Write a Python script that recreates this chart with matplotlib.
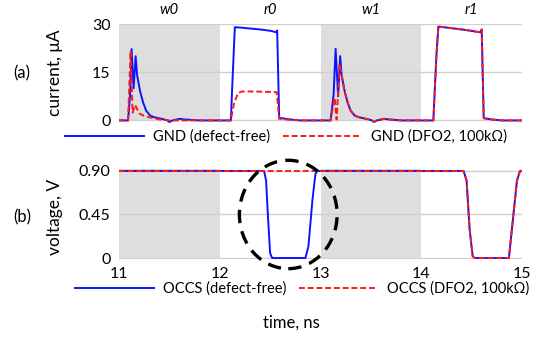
import numpy as np
import matplotlib
matplotlib.use('Agg')
import matplotlib.pyplot as plt
from matplotlib.patches import Ellipse

plt.rcParams['font.family'] = ['Lato', 'DejaVu Sans']

# --- data ---
# (a) GND current, uA
t_gnd_ok = [11.0, 11.09, 11.11, 11.125, 11.145, 11.165, 11.18, 11.21, 11.24, 11.27, 11.31, 11.35,
            11.45, 11.48, 11.50, 11.53, 11.56, 11.60, 11.65, 11.8,
            12.11, 12.13, 12.15, 12.2, 12.3, 12.4, 12.5, 12.565, 12.57, 12.59, 12.7, 12.8,
            13.10, 13.13, 13.15, 13.175, 13.195, 13.21, 13.24, 13.27, 13.30, 13.34, 13.38,
            13.48, 13.51, 13.53, 13.56, 13.59, 13.63, 13.68, 13.8,
            14.12, 14.15, 14.17, 14.25, 14.35, 14.45, 14.59, 14.60, 14.62, 14.7, 14.8, 15.0]
i_gnd_ok = [0, 0, 8, 22.2, 10, 20, 14, 9, 5.5, 3, 1.5, 1,
            0.3, 0, -0.5, 0, 0.2, 0.5, 0.3, 0,
            0, 15, 29, 28.9, 28.6, 28.3, 27.9, 27.4, 28, 0.8, 0.3, 0,
            0, 8, 22.3, 7.5, 20, 14, 9, 5.5, 3, 1.5, 1,
            0.3, 0, -0.5, 0, 0.2, 0.5, 0.3, 0,
            0, 20, 29.2, 28.9, 28.5, 28.1, 27.4, 28.3, 0.7, 0.3, 0, 0]

t_gnd_dfo = [11.0, 11.09, 11.115, 11.135, 11.16, 11.2, 11.25, 11.3, 11.4, 11.5, 11.8,
             12.11, 12.14, 12.18, 12.22, 12.35, 12.565, 12.59, 12.7, 12.8,
             13.10, 13.14, 13.16, 13.19, 13.21, 13.24, 13.27, 13.30, 13.34, 13.38,
             13.48, 13.51, 13.53, 13.56, 13.59, 13.63, 13.68, 13.8,
             14.12, 14.15, 14.17, 14.25, 14.35, 14.45, 14.59, 14.60, 14.62, 14.7, 14.8, 15.0]
i_gnd_dfo = [0, 0, 21.6, 2.4, 4.8, 2.2, 1.4, 1, 0.3, 0, 0,
             0, 5, 8.5, 9, 9, 8.8, 0.5, 0.2, 0,
             0, 7, 0.3, 17.6, 14, 9, 5.5, 3, 1.5, 1,
             0.3, 0, -0.5, 0, 0.2, 0.5, 0.3, 0,
             0, 20, 29.2, 28.9, 28.5, 28.1, 27.4, 28.3, 0.7, 0.3, 0, 0]

# (b) OCCS voltage, V
t_occs_ok = [11.0, 12.44, 12.46, 12.48, 12.50, 12.52, 12.85, 12.88, 12.92, 12.95, 12.97,
             14.42, 14.45, 14.48, 14.51, 14.53, 14.87, 14.90, 14.95, 14.98, 15.0]
v_occs_ok = [0.9, 0.9, 0.8, 0.4, 0.05, 0, 0, 0.12, 0.6, 0.87, 0.9,
             0.9, 0.8, 0.3, 0.02, 0, 0, 0.3, 0.8, 0.9, 0.9]
t_occs_dfo = [11.0, 14.42, 14.45, 14.48, 14.51, 14.53, 14.87, 14.90, 14.95, 14.98, 15.0]
v_occs_dfo = [0.9, 0.9, 0.8, 0.3, 0.02, 0, 0, 0.3, 0.8, 0.9, 0.9]

ops = ['w0', 'r0', 'w1', 'r1']
op_start = [11, 12, 13, 14]
write_windows = [(11, 12), (13, 14)]

blue = '#0a14ff'
red = '#ff1a1a'
shade = '#dedede'
grid = '#d0d0d0'

fig = plt.figure(figsize=(5.4, 3.4), dpi=100)
ax1 = fig.add_axes([119/540, 1-123/340, 403/540, 99/340])
ax2 = fig.add_axes([119/540, 1-259/340, 403/540, 90/340])

# top panel
for a, b in write_windows:
    ax1.fill_between([a, b], 0, 30, color=shade, lw=0, zorder=0)
for y in [15, 30]:
    ax1.axhline(y, color=grid, lw=1, zorder=1)
ax1.axhline(0, color=grid, lw=1, zorder=1)
ax1.plot(t_gnd_ok, i_gnd_ok, color=blue, lw=1.4, zorder=3, label='GND (defect-free)')
ax1.plot(t_gnd_dfo, i_gnd_dfo, color=red, lw=1.4, ls=(0, (3, 1.5)), zorder=4,
         label='GND (DFO2, 100k\u03a9)')
ax1.set_xlim(11, 15)
ax1.set_ylim(-0.8, 30)
ax1.set_yticks([0, 15, 30])
ax1.set_xticks([])
for s, name in zip(op_start, ops):
    ax1.text(s + 0.5, 1.14, name, transform=ax1.get_xaxis_transform(), ha='center',
             va='center', style='italic', fontsize=10.5)

# bottom panel
for a, b in write_windows:
    ax2.axvspan(a, b, color=shade, lw=0, zorder=0)
for y in [0, 0.45, 0.9]:
    ax2.axhline(y, color=grid, lw=1, zorder=1)
ax2.plot(t_occs_ok, v_occs_ok, color=blue, lw=1.4, zorder=3, label='OCCS (defect-free)')
ax2.plot(t_occs_dfo, v_occs_dfo, color=red, lw=1.4, ls=(0, (3, 1.5)), zorder=4,
         label='OCCS (DFO2, 100k\u03a9)')
ax2.set_xlim(11, 15)
ax2.set_ylim(-0.01, 0.92)
ax2.set_yticks([0, 0.45, 0.9])
ax2.set_yticklabels(['0', '0.45', '0.90'])
ax2.set_xticks([11, 12, 13, 14, 15])
ax2.add_patch(Ellipse((12.68, 0.45), 0.97, 1.12, fill=False, ec='black', lw=2.4,
                      ls=(0, (4, 2.5)), clip_on=False, zorder=5))

for ax in (ax1, ax2):
    for sp in ax.spines.values():
        sp.set_visible(False)
    ax.tick_params(length=0, labelsize=11.5, pad=6)

fig.text(22/540, 1-73/340, '(a)', fontsize=12, ha='center', va='center')
fig.text(55/540, 1-73/340, 'current, \u03bcA', fontsize=12.5, ha='center', va='center',
         rotation=90)
fig.text(22/540, 1-217/340, '(b)', fontsize=12, ha='center', va='center')
fig.text(55/540, 1-217/340, 'voltage, V', fontsize=12.5, ha='center', va='center',
         rotation=90)
fig.text(291/540, 1-323/340, 'time, ns', fontsize=12, ha='center', va='center')

leg_kw = dict(ncol=2, frameon=False, fontsize=10.5, handlelength=5.4, handletextpad=0.6,
              columnspacing=0.9, loc='center', borderaxespad=0, borderpad=0)
h, l = ax1.get_legend_handles_labels()
fig.legend(h, l, bbox_to_anchor=(286/540, 1-137/340), **leg_kw)
h, l = ax2.get_legend_handles_labels()
fig.legend(h, l, bbox_to_anchor=(302/540, 1-289/340), **leg_kw)

fig.savefig('out.png', dpi=100)
